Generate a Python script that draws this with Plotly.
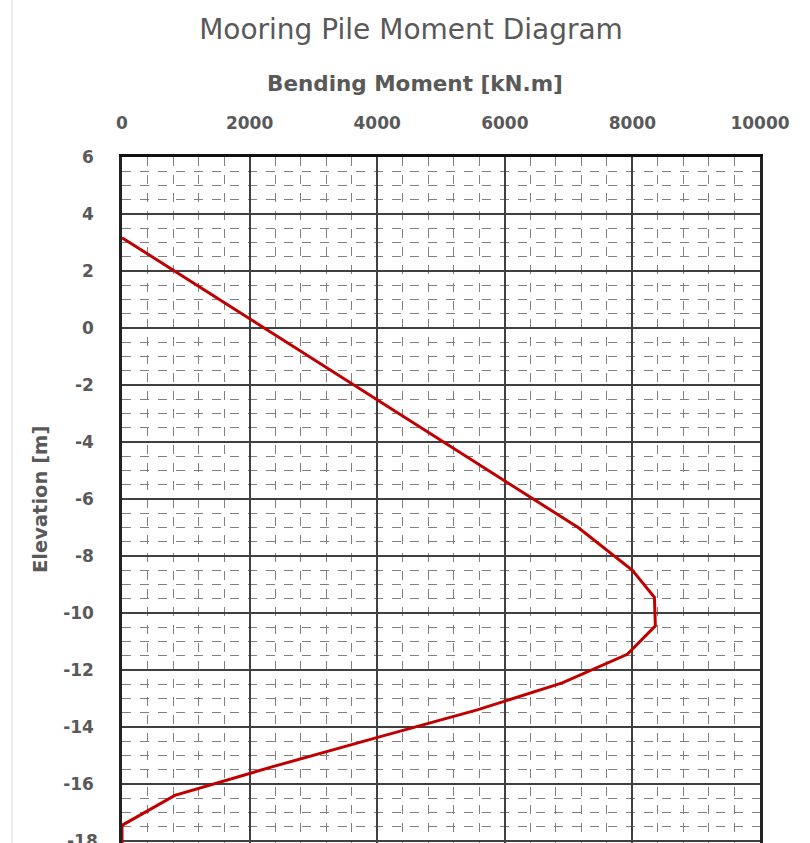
import plotly.graph_objects as go

# Data
moment_kNm = [0, 7150, 8000, 8345, 8360, 7920, 6900, 5568, 3950, 2350, 828, 0, 0]
elevation_m = [3.17, -7.0, -8.5, -9.45, -10.45, -11.45, -12.45, -13.4, -14.4, -15.4, -16.4, -17.45, -18.6]

x_tick_vals = [0, 2000, 4000, 6000, 8000, 10000]
x_tick_text = ["0", "2000", "4000", "6000", "8000", "10000"]
y_tick_vals = [6, 4, 2, 0, -2, -4, -6, -8, -10, -12, -14, -16, -18]
y_tick_text = ["6", "4", "2", "0", "-2", "-4", "-6", "-8", "-10", "-12", "-14", "-16", "-18"]

FONT = "DejaVu Sans"
GREY = "#595959"

W, H = 810, 843
L, R, T, B = 122, 50, 157, 0
PW, PH = W - L - R, H - T - B

fig = go.Figure()
fig.add_trace(go.Scatter(
    x=moment_kNm, y=elevation_m, mode="lines",
    line=dict(color="#c00000", width=3),
    showlegend=False, hoverinfo="x+y",
))

tickfont = dict(family=FONT, size=17, color=GREY, weight="bold")

fig.update_layout(
    width=W, height=H,
    margin=dict(l=L, r=R, t=T, b=B, autoexpand=False),
    paper_bgcolor="white", plot_bgcolor="white",
    title=dict(text="Mooring Pile Moment Diagram", xref="container", x=411 / W,
               xanchor="center", yref="container", y=1 - 29 / H, yanchor="middle",
               font=dict(family=FONT, size=28, color=GREY)),
    xaxis=dict(
        side="top", range=[0, 10000], automargin=False,
        tickvals=x_tick_vals, ticktext=x_tick_text,
        tickfont=tickfont,
        ticks="", ticklabelstandoff=18,
        showgrid=True, gridcolor="#404040", gridwidth=1.6,
        minor=dict(dtick=400, showgrid=True, gridcolor="#808080",
                   griddash="dash", gridwidth=1),
        showline=True, linecolor="#111111", linewidth=3, mirror=True,
        zeroline=False,
    ),
    yaxis=dict(
        range=[-18.07, 6], automargin=False,
        tickvals=y_tick_vals, ticktext=y_tick_text,
        tickfont=tickfont,
        ticks="", ticklabelstandoff=22,
        showgrid=True, gridcolor="#404040", gridwidth=1.6,
        minor=dict(dtick=0.5, showgrid=True, gridcolor="#808080",
                   griddash="dash", gridwidth=1),
        showline=True, linecolor="#222222", linewidth=2.5, mirror=True,
        zeroline=False,
    ),
)

# the lowest tick label is cut by the bottom edge; plotly drops it, so draw it explicitly
fig.add_annotation(text=y_tick_text[-1], xref="paper", yref="y",
                   x=-(L - 100) / PW, y=y_tick_vals[-1],
                   xanchor="right", yanchor="middle", showarrow=False,
                   font=tickfont)

# axis titles
fig.add_annotation(text="<b>Bending Moment [kN.m]</b>", xref="paper", yref="paper",
                   x=(415 - L) / PW, y=1 + (157 - 84) / PH,
                   xanchor="center", yanchor="middle", showarrow=False,
                   font=dict(family=FONT, size=21.5, color=GREY))
fig.add_annotation(text="<b>Elevation [m]</b>", xref="paper", yref="paper",
                   x=-(L - 40) / PW, y=(H - 500 - B) / PH,
                   xanchor="center", yanchor="middle", showarrow=False, textangle=-90,
                   font=dict(family=FONT, size=19.5, color=GREY))

# faint chart-area border on the left edge
fig.add_shape(type="line", xref="paper", yref="paper",
              x0=-(L - 12) / PW, x1=-(L - 12) / PW, y0=-0.01, y1=1.3,
              line=dict(color="#d9d9d9", width=1))

fig.write_html("out.html", config={"displayModeBar": False},
               post_script="document.body.style.margin='0';")
